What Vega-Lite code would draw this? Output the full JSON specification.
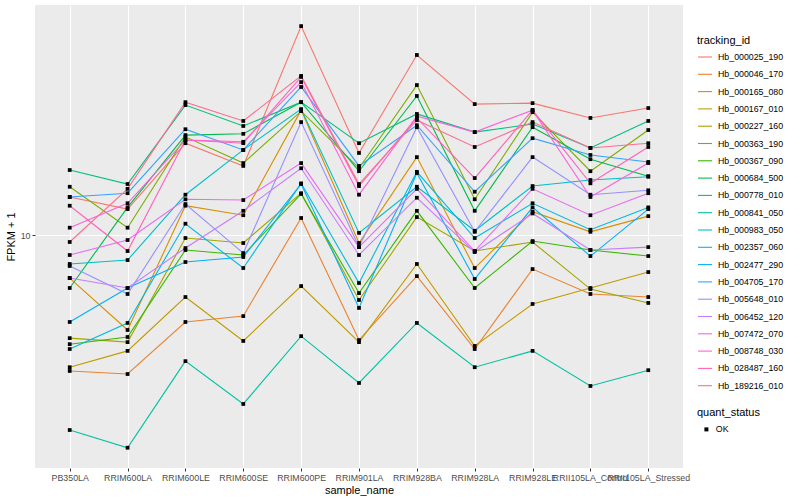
{
"$schema": "https://vega.github.io/schema/vega-lite/v6.json",
"width": 648,
"height": 463,
"autosize": {"type": "none"},
"padding": {"left": 35, "top": 5, "right": 117, "bottom": 32},
"background": "white",
"config": {
  "font": "Liberation Sans",
  "view": {"fill": "#EBEBEB", "stroke": null}
},
"datasets": {
"fpkm": [
{"tracking_id":"Hb_000025_190","sample_name":"PB350LA","fpkm":14.2,"quant_status":"OK"},
{"tracking_id":"Hb_000025_190","sample_name":"RRIM600LA","fpkm":12.7,"quant_status":"OK"},
{"tracking_id":"Hb_000025_190","sample_name":"RRIM600LE","fpkm":23.3,"quant_status":"OK"},
{"tracking_id":"Hb_000025_190","sample_name":"RRIM600SE","fpkm":18.9,"quant_status":"OK"},
{"tracking_id":"Hb_000025_190","sample_name":"RRIM600PE","fpkm":68.5,"quant_status":"OK"},
{"tracking_id":"Hb_000025_190","sample_name":"RRIM901LA","fpkm":21.3,"quant_status":"OK"},
{"tracking_id":"Hb_000025_190","sample_name":"RRIM928BA","fpkm":52.5,"quant_status":"OK"},
{"tracking_id":"Hb_000025_190","sample_name":"RRIM928LA","fpkm":33.4,"quant_status":"OK"},
{"tracking_id":"Hb_000025_190","sample_name":"RRIM928LE","fpkm":33.7,"quant_status":"OK"},
{"tracking_id":"Hb_000025_190","sample_name":"RRII105LA_Control","fpkm":29.4,"quant_status":"OK"},
{"tracking_id":"Hb_000025_190","sample_name":"RRII105LA_Stressed","fpkm":32.2,"quant_status":"OK"},
{"tracking_id":"Hb_000046_170","sample_name":"PB350LA","fpkm":2.86,"quant_status":"OK"},
{"tracking_id":"Hb_000046_170","sample_name":"RRIM600LA","fpkm":2.78,"quant_status":"OK"},
{"tracking_id":"Hb_000046_170","sample_name":"RRIM600LE","fpkm":4.49,"quant_status":"OK"},
{"tracking_id":"Hb_000046_170","sample_name":"RRIM600SE","fpkm":4.74,"quant_status":"OK"},
{"tracking_id":"Hb_000046_170","sample_name":"RRIM600PE","fpkm":11.7,"quant_status":"OK"},
{"tracking_id":"Hb_000046_170","sample_name":"RRIM901LA","fpkm":3.80,"quant_status":"OK"},
{"tracking_id":"Hb_000046_170","sample_name":"RRIM928BA","fpkm":6.85,"quant_status":"OK"},
{"tracking_id":"Hb_000046_170","sample_name":"RRIM928LA","fpkm":3.50,"quant_status":"OK"},
{"tracking_id":"Hb_000046_170","sample_name":"RRIM928LE","fpkm":7.31,"quant_status":"OK"},
{"tracking_id":"Hb_000046_170","sample_name":"RRII105LA_Control","fpkm":5.81,"quant_status":"OK"},
{"tracking_id":"Hb_000046_170","sample_name":"RRII105LA_Stressed","fpkm":5.65,"quant_status":"OK"},
{"tracking_id":"Hb_000165_080","sample_name":"PB350LA","fpkm":6.73,"quant_status":"OK"},
{"tracking_id":"Hb_000165_080","sample_name":"RRIM600LA","fpkm":4.17,"quant_status":"OK"},
{"tracking_id":"Hb_000165_080","sample_name":"RRIM600LE","fpkm":13.1,"quant_status":"OK"},
{"tracking_id":"Hb_000165_080","sample_name":"RRIM600SE","fpkm":12.0,"quant_status":"OK"},
{"tracking_id":"Hb_000165_080","sample_name":"RRIM600PE","fpkm":31.6,"quant_status":"OK"},
{"tracking_id":"Hb_000165_080","sample_name":"RRIM901LA","fpkm":9.29,"quant_status":"OK"},
{"tracking_id":"Hb_000165_080","sample_name":"RRIM928BA","fpkm":20.5,"quant_status":"OK"},
{"tracking_id":"Hb_000165_080","sample_name":"RRIM928LA","fpkm":7.38,"quant_status":"OK"},
{"tracking_id":"Hb_000165_080","sample_name":"RRIM928LE","fpkm":12.4,"quant_status":"OK"},
{"tracking_id":"Hb_000165_080","sample_name":"RRII105LA_Control","fpkm":10.3,"quant_status":"OK"},
{"tracking_id":"Hb_000165_080","sample_name":"RRII105LA_Stressed","fpkm":11.9,"quant_status":"OK"},
{"tracking_id":"Hb_000167_010","sample_name":"PB350LA","fpkm":2.96,"quant_status":"OK"},
{"tracking_id":"Hb_000167_010","sample_name":"RRIM600LA","fpkm":3.44,"quant_status":"OK"},
{"tracking_id":"Hb_000167_010","sample_name":"RRIM600LE","fpkm":5.65,"quant_status":"OK"},
{"tracking_id":"Hb_000167_010","sample_name":"RRIM600SE","fpkm":3.77,"quant_status":"OK"},
{"tracking_id":"Hb_000167_010","sample_name":"RRIM600PE","fpkm":6.25,"quant_status":"OK"},
{"tracking_id":"Hb_000167_010","sample_name":"RRIM901LA","fpkm":3.73,"quant_status":"OK"},
{"tracking_id":"Hb_000167_010","sample_name":"RRIM928BA","fpkm":7.66,"quant_status":"OK"},
{"tracking_id":"Hb_000167_010","sample_name":"RRIM928LA","fpkm":3.60,"quant_status":"OK"},
{"tracking_id":"Hb_000167_010","sample_name":"RRIM928LE","fpkm":5.30,"quant_status":"OK"},
{"tracking_id":"Hb_000167_010","sample_name":"RRII105LA_Control","fpkm":6.14,"quant_status":"OK"},
{"tracking_id":"Hb_000167_010","sample_name":"RRII105LA_Stressed","fpkm":7.11,"quant_status":"OK"},
{"tracking_id":"Hb_000227_160","sample_name":"PB350LA","fpkm":3.87,"quant_status":"OK"},
{"tracking_id":"Hb_000227_160","sample_name":"RRIM600LA","fpkm":3.73,"quant_status":"OK"},
{"tracking_id":"Hb_000227_160","sample_name":"RRIM600LE","fpkm":9.73,"quant_status":"OK"},
{"tracking_id":"Hb_000227_160","sample_name":"RRIM600SE","fpkm":9.29,"quant_status":"OK"},
{"tracking_id":"Hb_000227_160","sample_name":"RRIM600PE","fpkm":14.7,"quant_status":"OK"},
{"tracking_id":"Hb_000227_160","sample_name":"RRIM901LA","fpkm":5.50,"quant_status":"OK"},
{"tracking_id":"Hb_000227_160","sample_name":"RRIM928BA","fpkm":11.8,"quant_status":"OK"},
{"tracking_id":"Hb_000227_160","sample_name":"RRIM928LA","fpkm":8.63,"quant_status":"OK"},
{"tracking_id":"Hb_000227_160","sample_name":"RRIM928LE","fpkm":9.38,"quant_status":"OK"},
{"tracking_id":"Hb_000227_160","sample_name":"RRII105LA_Control","fpkm":6.08,"quant_status":"OK"},
{"tracking_id":"Hb_000227_160","sample_name":"RRII105LA_Stressed","fpkm":5.35,"quant_status":"OK"},
{"tracking_id":"Hb_000363_190","sample_name":"PB350LA","fpkm":15.6,"quant_status":"OK"},
{"tracking_id":"Hb_000363_190","sample_name":"RRIM600LA","fpkm":10.7,"quant_status":"OK"},
{"tracking_id":"Hb_000363_190","sample_name":"RRIM600LE","fpkm":24.7,"quant_status":"OK"},
{"tracking_id":"Hb_000363_190","sample_name":"RRIM600SE","fpkm":19.4,"quant_status":"OK"},
{"tracking_id":"Hb_000363_190","sample_name":"RRIM600PE","fpkm":31.3,"quant_status":"OK"},
{"tracking_id":"Hb_000363_190","sample_name":"RRIM901LA","fpkm":18.5,"quant_status":"OK"},
{"tracking_id":"Hb_000363_190","sample_name":"RRIM928BA","fpkm":39.8,"quant_status":"OK"},
{"tracking_id":"Hb_000363_190","sample_name":"RRIM928LA","fpkm":13.9,"quant_status":"OK"},
{"tracking_id":"Hb_000363_190","sample_name":"RRIM928LE","fpkm":31.0,"quant_status":"OK"},
{"tracking_id":"Hb_000363_190","sample_name":"RRII105LA_Control","fpkm":18.0,"quant_status":"OK"},
{"tracking_id":"Hb_000363_190","sample_name":"RRII105LA_Stressed","fpkm":26.3,"quant_status":"OK"},
{"tracking_id":"Hb_000367_090","sample_name":"PB350LA","fpkm":3.66,"quant_status":"OK"},
{"tracking_id":"Hb_000367_090","sample_name":"RRIM600LA","fpkm":3.91,"quant_status":"OK"},
{"tracking_id":"Hb_000367_090","sample_name":"RRIM600LE","fpkm":8.71,"quant_status":"OK"},
{"tracking_id":"Hb_000367_090","sample_name":"RRIM600SE","fpkm":8.32,"quant_status":"OK"},
{"tracking_id":"Hb_000367_090","sample_name":"RRIM600PE","fpkm":14.6,"quant_status":"OK"},
{"tracking_id":"Hb_000367_090","sample_name":"RRIM901LA","fpkm":5.86,"quant_status":"OK"},
{"tracking_id":"Hb_000367_090","sample_name":"RRIM928BA","fpkm":12.5,"quant_status":"OK"},
{"tracking_id":"Hb_000367_090","sample_name":"RRIM928LA","fpkm":6.14,"quant_status":"OK"},
{"tracking_id":"Hb_000367_090","sample_name":"RRIM928LE","fpkm":9.46,"quant_status":"OK"},
{"tracking_id":"Hb_000367_090","sample_name":"RRII105LA_Control","fpkm":8.71,"quant_status":"OK"},
{"tracking_id":"Hb_000367_090","sample_name":"RRII105LA_Stressed","fpkm":8.24,"quant_status":"OK"},
{"tracking_id":"Hb_000684_500","sample_name":"PB350LA","fpkm":6.14,"quant_status":"OK"},
{"tracking_id":"Hb_000684_500","sample_name":"RRIM600LA","fpkm":12.9,"quant_status":"OK"},
{"tracking_id":"Hb_000684_500","sample_name":"RRIM600LE","fpkm":25.1,"quant_status":"OK"},
{"tracking_id":"Hb_000684_500","sample_name":"RRIM600SE","fpkm":25.4,"quant_status":"OK"},
{"tracking_id":"Hb_000684_500","sample_name":"RRIM600PE","fpkm":34.0,"quant_status":"OK"},
{"tracking_id":"Hb_000684_500","sample_name":"RRIM901LA","fpkm":18.0,"quant_status":"OK"},
{"tracking_id":"Hb_000684_500","sample_name":"RRIM928BA","fpkm":36.0,"quant_status":"OK"},
{"tracking_id":"Hb_000684_500","sample_name":"RRIM928LA","fpkm":12.5,"quant_status":"OK"},
{"tracking_id":"Hb_000684_500","sample_name":"RRIM928LE","fpkm":27.0,"quant_status":"OK"},
{"tracking_id":"Hb_000684_500","sample_name":"RRII105LA_Control","fpkm":20.1,"quant_status":"OK"},
{"tracking_id":"Hb_000684_500","sample_name":"RRII105LA_Stressed","fpkm":17.2,"quant_status":"OK"},
{"tracking_id":"Hb_000778_010","sample_name":"PB350LA","fpkm":18.2,"quant_status":"OK"},
{"tracking_id":"Hb_000778_010","sample_name":"RRIM600LA","fpkm":16.0,"quant_status":"OK"},
{"tracking_id":"Hb_000778_010","sample_name":"RRIM600LE","fpkm":33.1,"quant_status":"OK"},
{"tracking_id":"Hb_000778_010","sample_name":"RRIM600SE","fpkm":27.3,"quant_status":"OK"},
{"tracking_id":"Hb_000778_010","sample_name":"RRIM600PE","fpkm":34.0,"quant_status":"OK"},
{"tracking_id":"Hb_000778_010","sample_name":"RRIM901LA","fpkm":23.3,"quant_status":"OK"},
{"tracking_id":"Hb_000778_010","sample_name":"RRIM928BA","fpkm":30.5,"quant_status":"OK"},
{"tracking_id":"Hb_000778_010","sample_name":"RRIM928LA","fpkm":25.8,"quant_status":"OK"},
{"tracking_id":"Hb_000778_010","sample_name":"RRIM928LE","fpkm":27.8,"quant_status":"OK"},
{"tracking_id":"Hb_000778_010","sample_name":"RRII105LA_Control","fpkm":22.3,"quant_status":"OK"},
{"tracking_id":"Hb_000778_010","sample_name":"RRII105LA_Stressed","fpkm":28.6,"quant_status":"OK"},
{"tracking_id":"Hb_000841_050","sample_name":"PB350LA","fpkm":1.66,"quant_status":"OK"},
{"tracking_id":"Hb_000841_050","sample_name":"RRIM600LA","fpkm":1.41,"quant_status":"OK"},
{"tracking_id":"Hb_000841_050","sample_name":"RRIM600LE","fpkm":3.13,"quant_status":"OK"},
{"tracking_id":"Hb_000841_050","sample_name":"RRIM600SE","fpkm":2.11,"quant_status":"OK"},
{"tracking_id":"Hb_000841_050","sample_name":"RRIM600PE","fpkm":3.94,"quant_status":"OK"},
{"tracking_id":"Hb_000841_050","sample_name":"RRIM901LA","fpkm":2.56,"quant_status":"OK"},
{"tracking_id":"Hb_000841_050","sample_name":"RRIM928BA","fpkm":4.45,"quant_status":"OK"},
{"tracking_id":"Hb_000841_050","sample_name":"RRIM928LA","fpkm":2.96,"quant_status":"OK"},
{"tracking_id":"Hb_000841_050","sample_name":"RRIM928LE","fpkm":3.44,"quant_status":"OK"},
{"tracking_id":"Hb_000841_050","sample_name":"RRII105LA_Control","fpkm":2.49,"quant_status":"OK"},
{"tracking_id":"Hb_000841_050","sample_name":"RRII105LA_Stressed","fpkm":2.88,"quant_status":"OK"},
{"tracking_id":"Hb_000983_050","sample_name":"PB350LA","fpkm":7.66,"quant_status":"OK"},
{"tracking_id":"Hb_000983_050","sample_name":"RRIM600LA","fpkm":7.94,"quant_status":"OK"},
{"tracking_id":"Hb_000983_050","sample_name":"RRIM600LE","fpkm":14.5,"quant_status":"OK"},
{"tracking_id":"Hb_000983_050","sample_name":"RRIM600SE","fpkm":21.9,"quant_status":"OK"},
{"tracking_id":"Hb_000983_050","sample_name":"RRIM600PE","fpkm":31.9,"quant_status":"OK"},
{"tracking_id":"Hb_000983_050","sample_name":"RRIM901LA","fpkm":10.2,"quant_status":"OK"},
{"tracking_id":"Hb_000983_050","sample_name":"RRIM928BA","fpkm":15.6,"quant_status":"OK"},
{"tracking_id":"Hb_000983_050","sample_name":"RRIM928LA","fpkm":10.4,"quant_status":"OK"},
{"tracking_id":"Hb_000983_050","sample_name":"RRIM928LE","fpkm":15.7,"quant_status":"OK"},
{"tracking_id":"Hb_000983_050","sample_name":"RRII105LA_Control","fpkm":16.6,"quant_status":"OK"},
{"tracking_id":"Hb_000983_050","sample_name":"RRII105LA_Stressed","fpkm":17.1,"quant_status":"OK"},
{"tracking_id":"Hb_002357_060","sample_name":"PB350LA","fpkm":3.50,"quant_status":"OK"},
{"tracking_id":"Hb_002357_060","sample_name":"RRIM600LA","fpkm":4.45,"quant_status":"OK"},
{"tracking_id":"Hb_002357_060","sample_name":"RRIM600LE","fpkm":11.1,"quant_status":"OK"},
{"tracking_id":"Hb_002357_060","sample_name":"RRIM600SE","fpkm":7.38,"quant_status":"OK"},
{"tracking_id":"Hb_002357_060","sample_name":"RRIM600PE","fpkm":16.1,"quant_status":"OK"},
{"tracking_id":"Hb_002357_060","sample_name":"RRIM901LA","fpkm":6.43,"quant_status":"OK"},
{"tracking_id":"Hb_002357_060","sample_name":"RRIM928BA","fpkm":17.9,"quant_status":"OK"},
{"tracking_id":"Hb_002357_060","sample_name":"RRIM928LA","fpkm":9.73,"quant_status":"OK"},
{"tracking_id":"Hb_002357_060","sample_name":"RRIM928LE","fpkm":13.4,"quant_status":"OK"},
{"tracking_id":"Hb_002357_060","sample_name":"RRII105LA_Control","fpkm":10.5,"quant_status":"OK"},
{"tracking_id":"Hb_002357_060","sample_name":"RRII105LA_Stressed","fpkm":12.9,"quant_status":"OK"},
{"tracking_id":"Hb_002477_290","sample_name":"PB350LA","fpkm":4.49,"quant_status":"OK"},
{"tracking_id":"Hb_002477_290","sample_name":"RRIM600LA","fpkm":6.14,"quant_status":"OK"},
{"tracking_id":"Hb_002477_290","sample_name":"RRIM600LE","fpkm":7.80,"quant_status":"OK"},
{"tracking_id":"Hb_002477_290","sample_name":"RRIM600SE","fpkm":8.17,"quant_status":"OK"},
{"tracking_id":"Hb_002477_290","sample_name":"RRIM600PE","fpkm":16.0,"quant_status":"OK"},
{"tracking_id":"Hb_002477_290","sample_name":"RRIM901LA","fpkm":5.11,"quant_status":"OK"},
{"tracking_id":"Hb_002477_290","sample_name":"RRIM928BA","fpkm":17.7,"quant_status":"OK"},
{"tracking_id":"Hb_002477_290","sample_name":"RRIM928LA","fpkm":6.67,"quant_status":"OK"},
{"tracking_id":"Hb_002477_290","sample_name":"RRIM928LE","fpkm":12.9,"quant_status":"OK"},
{"tracking_id":"Hb_002477_290","sample_name":"RRII105LA_Control","fpkm":8.24,"quant_status":"OK"},
{"tracking_id":"Hb_002477_290","sample_name":"RRII105LA_Stressed","fpkm":12.7,"quant_status":"OK"},
{"tracking_id":"Hb_004705_170","sample_name":"PB350LA","fpkm":14.2,"quant_status":"OK"},
{"tracking_id":"Hb_004705_170","sample_name":"RRIM600LA","fpkm":14.7,"quant_status":"OK"},
{"tracking_id":"Hb_004705_170","sample_name":"RRIM600LE","fpkm":26.5,"quant_status":"OK"},
{"tracking_id":"Hb_004705_170","sample_name":"RRIM600SE","fpkm":21.9,"quant_status":"OK"},
{"tracking_id":"Hb_004705_170","sample_name":"RRIM600PE","fpkm":39.1,"quant_status":"OK"},
{"tracking_id":"Hb_004705_170","sample_name":"RRIM901LA","fpkm":18.9,"quant_status":"OK"},
{"tracking_id":"Hb_004705_170","sample_name":"RRIM928BA","fpkm":27.5,"quant_status":"OK"},
{"tracking_id":"Hb_004705_170","sample_name":"RRIM928LA","fpkm":14.9,"quant_status":"OK"},
{"tracking_id":"Hb_004705_170","sample_name":"RRIM928LE","fpkm":24.4,"quant_status":"OK"},
{"tracking_id":"Hb_004705_170","sample_name":"RRII105LA_Control","fpkm":20.9,"quant_status":"OK"},
{"tracking_id":"Hb_004705_170","sample_name":"RRII105LA_Stressed","fpkm":19.6,"quant_status":"OK"},
{"tracking_id":"Hb_005648_010","sample_name":"PB350LA","fpkm":7.52,"quant_status":"OK"},
{"tracking_id":"Hb_005648_010","sample_name":"RRIM600LA","fpkm":5.81,"quant_status":"OK"},
{"tracking_id":"Hb_005648_010","sample_name":"RRIM600LE","fpkm":13.3,"quant_status":"OK"},
{"tracking_id":"Hb_005648_010","sample_name":"RRIM600SE","fpkm":8.47,"quant_status":"OK"},
{"tracking_id":"Hb_005648_010","sample_name":"RRIM600PE","fpkm":28.3,"quant_status":"OK"},
{"tracking_id":"Hb_005648_010","sample_name":"RRIM901LA","fpkm":8.95,"quant_status":"OK"},
{"tracking_id":"Hb_005648_010","sample_name":"RRIM928BA","fpkm":27.0,"quant_status":"OK"},
{"tracking_id":"Hb_005648_010","sample_name":"RRIM928LA","fpkm":10.3,"quant_status":"OK"},
{"tracking_id":"Hb_005648_010","sample_name":"RRIM928LE","fpkm":20.5,"quant_status":"OK"},
{"tracking_id":"Hb_005648_010","sample_name":"RRII105LA_Control","fpkm":14.5,"quant_status":"OK"},
{"tracking_id":"Hb_005648_010","sample_name":"RRII105LA_Stressed","fpkm":15.1,"quant_status":"OK"},
{"tracking_id":"Hb_006452_120","sample_name":"PB350LA","fpkm":6.73,"quant_status":"OK"},
{"tracking_id":"Hb_006452_120","sample_name":"RRIM600LA","fpkm":6.14,"quant_status":"OK"},
{"tracking_id":"Hb_006452_120","sample_name":"RRIM600LE","fpkm":8.87,"quant_status":"OK"},
{"tracking_id":"Hb_006452_120","sample_name":"RRIM600SE","fpkm":12.5,"quant_status":"OK"},
{"tracking_id":"Hb_006452_120","sample_name":"RRIM600PE","fpkm":18.5,"quant_status":"OK"},
{"tracking_id":"Hb_006452_120","sample_name":"RRIM901LA","fpkm":8.32,"quant_status":"OK"},
{"tracking_id":"Hb_006452_120","sample_name":"RRIM928BA","fpkm":14.1,"quant_status":"OK"},
{"tracking_id":"Hb_006452_120","sample_name":"RRIM928LA","fpkm":8.55,"quant_status":"OK"},
{"tracking_id":"Hb_006452_120","sample_name":"RRIM928LE","fpkm":12.2,"quant_status":"OK"},
{"tracking_id":"Hb_006452_120","sample_name":"RRII105LA_Control","fpkm":8.71,"quant_status":"OK"},
{"tracking_id":"Hb_006452_120","sample_name":"RRII105LA_Stressed","fpkm":8.95,"quant_status":"OK"},
{"tracking_id":"Hb_007472_070","sample_name":"PB350LA","fpkm":8.32,"quant_status":"OK"},
{"tracking_id":"Hb_007472_070","sample_name":"RRIM600LA","fpkm":9.55,"quant_status":"OK"},
{"tracking_id":"Hb_007472_070","sample_name":"RRIM600LE","fpkm":13.9,"quant_status":"OK"},
{"tracking_id":"Hb_007472_070","sample_name":"RRIM600SE","fpkm":13.8,"quant_status":"OK"},
{"tracking_id":"Hb_007472_070","sample_name":"RRIM600PE","fpkm":19.4,"quant_status":"OK"},
{"tracking_id":"Hb_007472_070","sample_name":"RRIM901LA","fpkm":8.95,"quant_status":"OK"},
{"tracking_id":"Hb_007472_070","sample_name":"RRIM928BA","fpkm":15.3,"quant_status":"OK"},
{"tracking_id":"Hb_007472_070","sample_name":"RRIM928LA","fpkm":8.63,"quant_status":"OK"},
{"tracking_id":"Hb_007472_070","sample_name":"RRIM928LE","fpkm":15.3,"quant_status":"OK"},
{"tracking_id":"Hb_007472_070","sample_name":"RRII105LA_Control","fpkm":12.0,"quant_status":"OK"},
{"tracking_id":"Hb_007472_070","sample_name":"RRII105LA_Stressed","fpkm":14.7,"quant_status":"OK"},
{"tracking_id":"Hb_008748_030","sample_name":"PB350LA","fpkm":10.7,"quant_status":"OK"},
{"tracking_id":"Hb_008748_030","sample_name":"RRIM600LA","fpkm":13.4,"quant_status":"OK"},
{"tracking_id":"Hb_008748_030","sample_name":"RRIM600LE","fpkm":24.0,"quant_status":"OK"},
{"tracking_id":"Hb_008748_030","sample_name":"RRIM600SE","fpkm":23.6,"quant_status":"OK"},
{"tracking_id":"Hb_008748_030","sample_name":"RRIM600PE","fpkm":40.9,"quant_status":"OK"},
{"tracking_id":"Hb_008748_030","sample_name":"RRIM901LA","fpkm":14.5,"quant_status":"OK"},
{"tracking_id":"Hb_008748_030","sample_name":"RRIM928BA","fpkm":29.9,"quant_status":"OK"},
{"tracking_id":"Hb_008748_030","sample_name":"RRIM928LA","fpkm":25.8,"quant_status":"OK"},
{"tracking_id":"Hb_008748_030","sample_name":"RRIM928LE","fpkm":31.6,"quant_status":"OK"},
{"tracking_id":"Hb_008748_030","sample_name":"RRII105LA_Control","fpkm":14.2,"quant_status":"OK"},
{"tracking_id":"Hb_008748_030","sample_name":"RRII105LA_Stressed","fpkm":19.4,"quant_status":"OK"},
{"tracking_id":"Hb_028487_160","sample_name":"PB350LA","fpkm":13.1,"quant_status":"OK"},
{"tracking_id":"Hb_028487_160","sample_name":"RRIM600LA","fpkm":8.63,"quant_status":"OK"},
{"tracking_id":"Hb_028487_160","sample_name":"RRIM600LE","fpkm":24.0,"quant_status":"OK"},
{"tracking_id":"Hb_028487_160","sample_name":"RRIM600SE","fpkm":23.3,"quant_status":"OK"},
{"tracking_id":"Hb_028487_160","sample_name":"RRIM600PE","fpkm":42.9,"quant_status":"OK"},
{"tracking_id":"Hb_028487_160","sample_name":"RRIM901LA","fpkm":15.7,"quant_status":"OK"},
{"tracking_id":"Hb_028487_160","sample_name":"RRIM928BA","fpkm":29.4,"quant_status":"OK"},
{"tracking_id":"Hb_028487_160","sample_name":"RRIM928LA","fpkm":16.9,"quant_status":"OK"},
{"tracking_id":"Hb_028487_160","sample_name":"RRIM928LE","fpkm":31.6,"quant_status":"OK"},
{"tracking_id":"Hb_028487_160","sample_name":"RRII105LA_Control","fpkm":16.1,"quant_status":"OK"},
{"tracking_id":"Hb_028487_160","sample_name":"RRII105LA_Stressed","fpkm":22.5,"quant_status":"OK"},
{"tracking_id":"Hb_189216_010","sample_name":"PB350LA","fpkm":9.38,"quant_status":"OK"},
{"tracking_id":"Hb_189216_010","sample_name":"RRIM600LA","fpkm":15.3,"quant_status":"OK"},
{"tracking_id":"Hb_189216_010","sample_name":"RRIM600LE","fpkm":34.0,"quant_status":"OK"},
{"tracking_id":"Hb_189216_010","sample_name":"RRIM600SE","fpkm":28.6,"quant_status":"OK"},
{"tracking_id":"Hb_189216_010","sample_name":"RRIM600PE","fpkm":43.3,"quant_status":"OK"},
{"tracking_id":"Hb_189216_010","sample_name":"RRIM901LA","fpkm":16.0,"quant_status":"OK"},
{"tracking_id":"Hb_189216_010","sample_name":"RRIM928BA","fpkm":28.8,"quant_status":"OK"},
{"tracking_id":"Hb_189216_010","sample_name":"RRIM928LA","fpkm":22.5,"quant_status":"OK"},
{"tracking_id":"Hb_189216_010","sample_name":"RRIM928LE","fpkm":28.3,"quant_status":"OK"},
{"tracking_id":"Hb_189216_010","sample_name":"RRII105LA_Control","fpkm":22.3,"quant_status":"OK"},
{"tracking_id":"Hb_189216_010","sample_name":"RRII105LA_Stressed","fpkm":23.3,"quant_status":"OK"}
]
},
"data": {"name": "fpkm"},
"encoding": {
  "x": {
    "field": "sample_name", "type": "nominal",
    "sort": ["PB350LA","RRIM600LA","RRIM600LE","RRIM600SE","RRIM600PE","RRIM901LA","RRIM928BA","RRIM928LA","RRIM928LE","RRII105LA_Control","RRII105LA_Stressed"],
    "scale": {"type": "point", "padding": 0.6},
    "axis": {
      "title": "sample_name", "titleFont": "Liberation Sans", "titleFontSize": 11, "titleFontWeight": "normal", "titleColor": "#000000", "titlePadding": 3,
      "labelFont": "Liberation Sans", "labelFontSize": 8.8, "labelColor": "#4D4D4D", "labelAngle": 0, "labelPadding": 2, "labelOverlap": false,
      "tickColor": "#333333", "tickSize": 3, "tickWidth": 1,
      "domain": false, "grid": true, "gridColor": "#FFFFFF", "gridWidth": 1.1
    }
  },
  "y": {
    "field": "fpkm", "type": "quantitative",
    "scale": {"type": "log", "domain": [1.17, 83.2], "nice": false, "zero": false},
    "axis": {
      "title": "FPKM + 1", "titleFont": "Liberation Sans", "titleFontSize": 11, "titleFontWeight": "normal", "titleColor": "#000000", "titlePadding": 4,
      "values": [10], "format": "d",
      "labelFont": "Liberation Sans", "labelFontSize": 8.8, "labelColor": "#4D4D4D", "labelPadding": 2,
      "tickColor": "#333333", "tickSize": 3, "tickWidth": 1,
      "domain": false, "grid": true, "gridColor": "#FFFFFF", "gridWidth": 1.1
    }
  }
},
"layer": [
  {
    "mark": {"type": "line", "strokeWidth": 1.1},
    "encoding": {
      "color": {
        "field": "tracking_id", "type": "nominal",
        "scale": {
          "domain": ["Hb_000025_190","Hb_000046_170","Hb_000165_080","Hb_000167_010","Hb_000227_160","Hb_000363_190","Hb_000367_090","Hb_000684_500","Hb_000778_010","Hb_000841_050","Hb_000983_050","Hb_002357_060","Hb_002477_290","Hb_004705_170","Hb_005648_010","Hb_006452_120","Hb_007472_070","Hb_008748_030","Hb_028487_160","Hb_189216_010"],
          "range": ["#F8766D","#EA8331","#D89000","#C09B00","#A3A500","#7CAE00","#39B600","#00BB4E","#00BF7D","#00C1A3","#00BFC4","#00BAE0","#00B0F6","#35A2FF","#9590FF","#C77CFF","#E76BF3","#FA62DB","#FF62BC","#FF6C91"]
        },
        "legend": {
          "orient": "none", "legendX": 662, "legendY": 30, "padding": 0,
          "title": "tracking_id", "titleFont": "Liberation Sans", "titleFontSize": 11, "titleFontWeight": "normal", "titleColor": "#000000", "titlePadding": 3,
          "labelFont": "Liberation Sans", "labelFontSize": 8.8, "labelColor": "#000000", "labelOffset": 5,
          "symbolType": "stroke", "symbolSize": 196, "symbolStrokeWidth": 1.1, "rowPadding": 4.3
        }
      }
    }
  },
  {
    "mark": {"type": "point", "filled": true, "size": 14, "opacity": 1, "color": "#000000"},
    "encoding": {
      "shape": {
        "field": "quant_status", "type": "nominal",
        "scale": {"domain": ["OK"], "range": ["square"]},
        "legend": {
          "orient": "none", "legendX": 662, "legendY": 402, "padding": 0,
          "title": "quant_status", "titleFont": "Liberation Sans", "titleFontSize": 11, "titleFontWeight": "normal", "titleColor": "#000000", "titlePadding": 7,
          "labelFont": "Liberation Sans", "labelFontSize": 8.8, "labelColor": "#000000", "labelOffset": 5,
          "symbolSize": 16, "symbolFillColor": "#000000", "symbolStrokeColor": "#000000", "symbolOffset": 5
        }
      }
    }
  }
]
}
